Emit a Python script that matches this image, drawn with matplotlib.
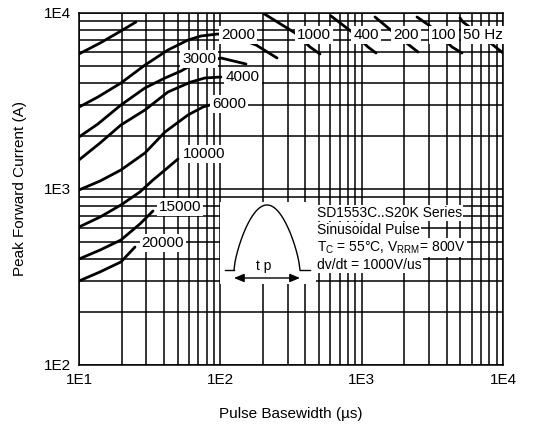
import numpy as np
import matplotlib
matplotlib.use("Agg")
import matplotlib.pyplot as plt
from matplotlib.patches import Rectangle, FancyArrowPatch
from matplotlib.ticker import FixedLocator, FixedFormatter, LogLocator, NullFormatter

plt.rcParams['font.family'] = ['Liberation Sans', 'DejaVu Sans']
plt.rcParams['mathtext.fontset'] = 'custom'
plt.rcParams['mathtext.rm'] = 'Liberation Sans'
plt.rcParams['mathtext.it'] = 'Liberation Sans:italic'

# short pulse curves (pulse basewidth us, peak current A)
tp_top = [10, 14.1, 19.8, 25.3]
i_top = [5850, 6750, 7900, 8890]

tp_2000 = [10, 13.6, 19.8, 29.3, 42.6, 59.1, 73.0, 96.3, 127, 179, 252]
i_2000 = [2920, 3330, 4000, 5060, 6160, 7020, 7400, 7600, 7300, 6580, 5550]

tp_3000 = [10, 13.6, 19.8, 29.3, 40.6, 52.7, 61.0, 101, 152]
i_3000 = [1974, 2340, 3000, 3750, 4270, 4680, 5000, 5550, 5130]

tp_4000 = [10, 14.1, 19.8, 29.3, 42.6, 62.0, 77.9, 101]
i_4000 = [1462, 1825, 2310, 2811, 3557, 4055, 4272, 4328]

tp_6000 = [10, 14.1, 19.8, 29.3, 40.6, 59.1, 75.4, 84.5]
i_6000 = [987, 1110, 1282, 1602, 2108, 2634, 2923, 3001]

tp_10000 = [10, 14.1, 19.8, 27.0, 33.4, 40.6, 50.2]
i_10000 = [608, 693, 811, 962, 1125, 1282, 1481]

tp_15000 = [10, 14.1, 19.8, 27.0, 33.4]
i_15000 = [400, 450, 513, 633, 750]

tp_20000 = [10, 14.1, 19.8, 24.9]
i_20000 = [300, 338, 385, 468]

# long pulse curves
tp_1000 = [200, 338, 431, 507]
i_1000 = [10000, 7697, 6409, 5848]
tp_400 = [607, 854, 1109, 1263]
i_400 = [9615, 7799, 6409, 5925]
tp_200 = [1243, 1667, 2163, 2504]
i_200 = [9490, 7799, 6579, 6003]
tp_100 = [2464, 3046, 4358, 5129]
i_100 = [9490, 8435, 6409, 5925]
tp_50 = [4964, 5212, 8500, 10000]
i_50 = [9367, 8889, 6579, 5925]

x_ticks = [10, 100, 1000, 10000]
x_tick_labels = ["1E1", "1E2", "1E3", "1E4"]
y_ticks = [100, 1000, 10000]
y_tick_labels = ["1E2", "1E3", "1E4"]

fig = plt.figure(figsize=(5.34, 4.30), dpi=100)
ax = fig.add_axes([0.1479, 0.1512, 0.794, 0.8186])
ax.set_xscale("log")
ax.set_yscale("log")
ax.set_xlim(10, 10000)
ax.set_ylim(100, 10000)

ax.xaxis.set_major_locator(FixedLocator(x_ticks))
ax.xaxis.set_major_formatter(FixedFormatter(x_tick_labels))
ax.yaxis.set_major_locator(FixedLocator(y_ticks))
ax.yaxis.set_major_formatter(FixedFormatter(y_tick_labels))
ax.xaxis.set_minor_locator(LogLocator(base=10, subs=np.arange(2, 10)))
ax.yaxis.set_minor_locator(LogLocator(base=10, subs=np.arange(2, 10)))
ax.xaxis.set_minor_formatter(NullFormatter())
ax.yaxis.set_minor_formatter(NullFormatter())
ax.tick_params(which="both", length=0, pad=6, labelsize=11)
ax.grid(True, which="both", color="black", linewidth=1.1)
ax.set_axisbelow(True)
for s in ax.spines.values():
    s.set_linewidth(1.1)

curves = [(tp_top, i_top), (tp_2000, i_2000), (tp_3000, i_3000), (tp_4000, i_4000),
          (tp_6000, i_6000), (tp_10000, i_10000), (tp_15000, i_15000), (tp_20000, i_20000),
          (tp_1000, i_1000), (tp_400, i_400), (tp_200, i_200), (tp_100, i_100), (tp_50, i_50)]
for tp, ipk in curves:
    ax.plot(tp, ipk, color="black", linewidth=2.0, zorder=3,
            solid_joinstyle="round", solid_capstyle="round")

box = dict(boxstyle="square,pad=0.12", facecolor="white", edgecolor="none")
labels = [("2000", 133, 7500), ("3000", 70.7, 5477), ("4000", 144.7, 4328),
          ("6000", 115.2, 3040), ("10000", 76.6, 1581), ("15000", 51.8, 790),
          ("20000", 39.3, 493), ("1000", 460, 7500), ("400", 1073, 7500),
          ("200", 2059, 7500), ("100", 3824, 7500), ("50 Hz", 7225, 7500)]
for txt, x, y in labels:
    ax.text(x, y, txt, ha="center", va="center", fontsize=11, bbox=box, zorder=5)

# inset with pulse shape
def axpos(px, py):
    return ((px - 79) / 424.0, (365 - py) / 352.0)

x0, y0 = axpos(220, 284)
x1, y1 = axpos(316, 202)
ax.add_patch(Rectangle((x0, y0), x1 - x0, y1 - y0, transform=ax.transAxes,
                       facecolor="white", edgecolor="none", zorder=4))
t = np.linspace(0, 1, 60)
wx = 234 + 66 * t
wy = 270 - 65 * np.sin(np.pi * t) ** 0.7
pts = [axpos(a, b) for a, b in zip(wx, wy)]
ax.plot([p[0] for p in pts], [p[1] for p in pts], color="black", lw=1.0,
        transform=ax.transAxes, zorder=5)
for xa, xb in [(225, 234), (300, 310)]:
    pa, pb = axpos(xa, 270), axpos(xb, 270)
    ax.plot([pa[0], pb[0]], [pa[1], pb[1]], color="black", lw=1.0,
            transform=ax.transAxes, zorder=5)
ax.add_patch(FancyArrowPatch(axpos(234, 278), axpos(300, 278), transform=ax.transAxes,
                             arrowstyle="<|-|>,head_length=6,head_width=2.5",
                             color="black", lw=1.0, zorder=5, shrinkA=0, shrinkB=0))
tx, ty = axpos(264, 266)
ax.text(tx, ty, "t p", transform=ax.transAxes, ha="center", va="center",
        fontsize=10, zorder=6)

info = ["SD1553C..S20K Series", "Sinusoidal Pulse",
        r"T$_\mathregular{C}$ = 55°C, V$_\mathregular{RRM}$= 800V", "dv/dt = 1000V/us"]
info_box = dict(boxstyle="square,pad=0.1", facecolor="white", edgecolor="none")
for k, line in enumerate(info):
    lx, ly = axpos(317, 213 + 17.3 * k)
    ax.text(lx, ly, line, transform=ax.transAxes, ha="left", va="center",
            fontsize=10, bbox=info_box, zorder=6)

ax.set_xlabel("Pulse Basewidth (µs)", fontsize=11, labelpad=14)
ax.set_ylabel("Peak Forward Current (A)", fontsize=11, labelpad=12)

fig.savefig("out.png", dpi=100)
